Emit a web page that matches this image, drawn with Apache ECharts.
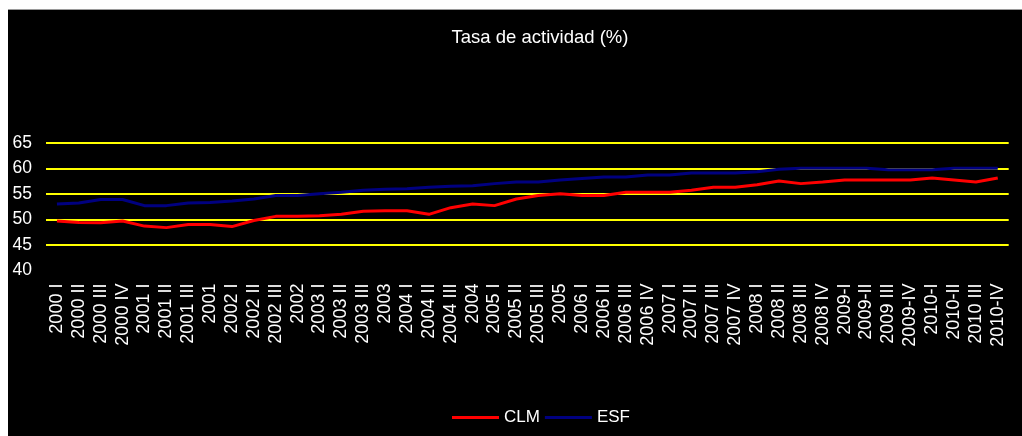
<!DOCTYPE html>
<html>
<head>
<meta charset="utf-8">
<script src="https://cdn.jsdelivr.net/npm/echarts@6/dist/echarts.min.js"></script>
<style>
  html, body { margin: 0; padding: 0; background: #ffffff; width: 1022px; height: 436px; overflow: hidden; }
  #topline { position: absolute; left: 8px; top: 9px; width: 1014px; height: 1px; background: #9a9a9a; }
  #chart { position: absolute; left: 8px; top: 10px; width: 1014px; height: 426px; background: #000000; }
</style>
</head>
<body>
<div id="topline"></div>
<div id="chart"></div>
<script>
const categories = [
  "2000 I", "2000 II", "2000 III", "2000 IV",
  "2001 I", "2001 II", "2001 III", "2001",
  "2002 I", "2002 II", "2002 III", "2002",
  "2003 I", "2003 II", "2003 III", "2003",
  "2004 I", "2004 II", "2004 III", "2004",
  "2005 I", "2005 II", "2005 III", "2005",
  "2006 I", "2006 II", "2006 III", "2006 IV",
  "2007 I", "2007 II", "2007 III", "2007 IV",
  "2008 I", "2008 II", "2008 III", "2008 IV",
  "2009-I", "2009-II", "2009 III", "2009-IV",
  "2010-I", "2010-II", "2010 III", "2010-IV"
];
const clm = [
  49.7, 49.4, 49.35, 49.7,
  48.7, 48.4, 49.0, 49.0,
  48.6, 49.8, 50.6, 50.6,
  50.7, 51.0, 51.6, 51.7,
  51.7, 51.0, 52.3, 53.0,
  52.7, 54.0, 54.7, 55.0,
  54.7, 54.7, 55.3, 55.3,
  55.3, 55.7, 56.3, 56.3,
  56.8, 57.5, 57.0, 57.3,
  57.7, 57.7, 57.7, 57.7,
  58.1, 57.7, 57.3, 58.1
];
const esf = [
  53.0, 53.2, 53.9, 53.9,
  52.7, 52.7, 53.2, 53.3,
  53.6, 54.0, 54.7, 54.7,
  55.0, 55.3, 55.7, 55.9,
  56.0, 56.3, 56.5, 56.6,
  57.0, 57.3, 57.3, 57.7,
  58.0, 58.3, 58.3, 58.7,
  58.7, 59.1, 59.1, 59.1,
  59.3, 59.8, 60.0, 60.0,
  60.0, 60.0, 59.7, 59.7,
  59.7, 60.0, 60.0, 60.0
];
const seriesNames = ["CLM", "ESF"];
const titleText = "Tasa de actividad (%)";

const FONT = "'Liberation Sans', Arial, sans-serif";
const chart = echarts.init(document.getElementById('chart'), null, { renderer: 'canvas' });
chart.setOption({
  backgroundColor: '#000000',
  animation: false,
  title: {
    text: titleText,
    left: 527,
    top: 13,
    textAlign: 'center',
    textStyle: { color: '#ffffff', fontFamily: FONT, fontSize: 18.5, fontWeight: 'normal' }
  },
  legend: {
    data: seriesNames,
    left: 439,
    top: 394,
    icon: 'rect',
    itemWidth: 47,
    itemHeight: 3,
    itemGap: 5,
    textStyle: { color: '#ffffff', fontFamily: FONT, fontSize: 17, padding: [0, 0, 0, 0] }
  },
  grid: { left: 38, right: 13.3, top: 132.7, bottom: 165.4, containLabel: false },
  xAxis: {
    type: 'category',
    data: categories,
    boundaryGap: true,
    axisLine: { show: false },
    axisTick: { show: false },
    axisLabel: {
      interval: 0,
      rotate: 90,
      margin: 13,
      color: '#ffffff',
      fontFamily: FONT,
      fontSize: 18
    },
    splitLine: { show: false }
  },
  yAxis: {
    type: 'value',
    min: 40,
    max: 65,
    interval: 5,
    axisLine: { show: false },
    axisTick: { show: false },
    axisLabel: { color: '#ffffff', fontFamily: FONT, fontSize: 17.5, margin: 14 },
    splitLine: {
      show: true,
      lineStyle: { color: ['rgba(0,0,0,0)', '#ffff00', '#ffff00', '#ffff00', '#ffff00', '#ffff00'], width: 2 }
    }
  },
  series: [
    {
      name: seriesNames[0],
      type: 'line',
      data: clm,
      symbol: 'none',
      itemStyle: { color: '#ff0000' },
      lineStyle: { color: '#ff0000', width: 3 },
      z: 3
    },
    {
      name: seriesNames[1],
      type: 'line',
      data: esf,
      symbol: 'none',
      itemStyle: { color: '#000080' },
      lineStyle: { color: '#000080', width: 3 },
      z: 2
    }
  ]
});
</script>
</body>
</html>
